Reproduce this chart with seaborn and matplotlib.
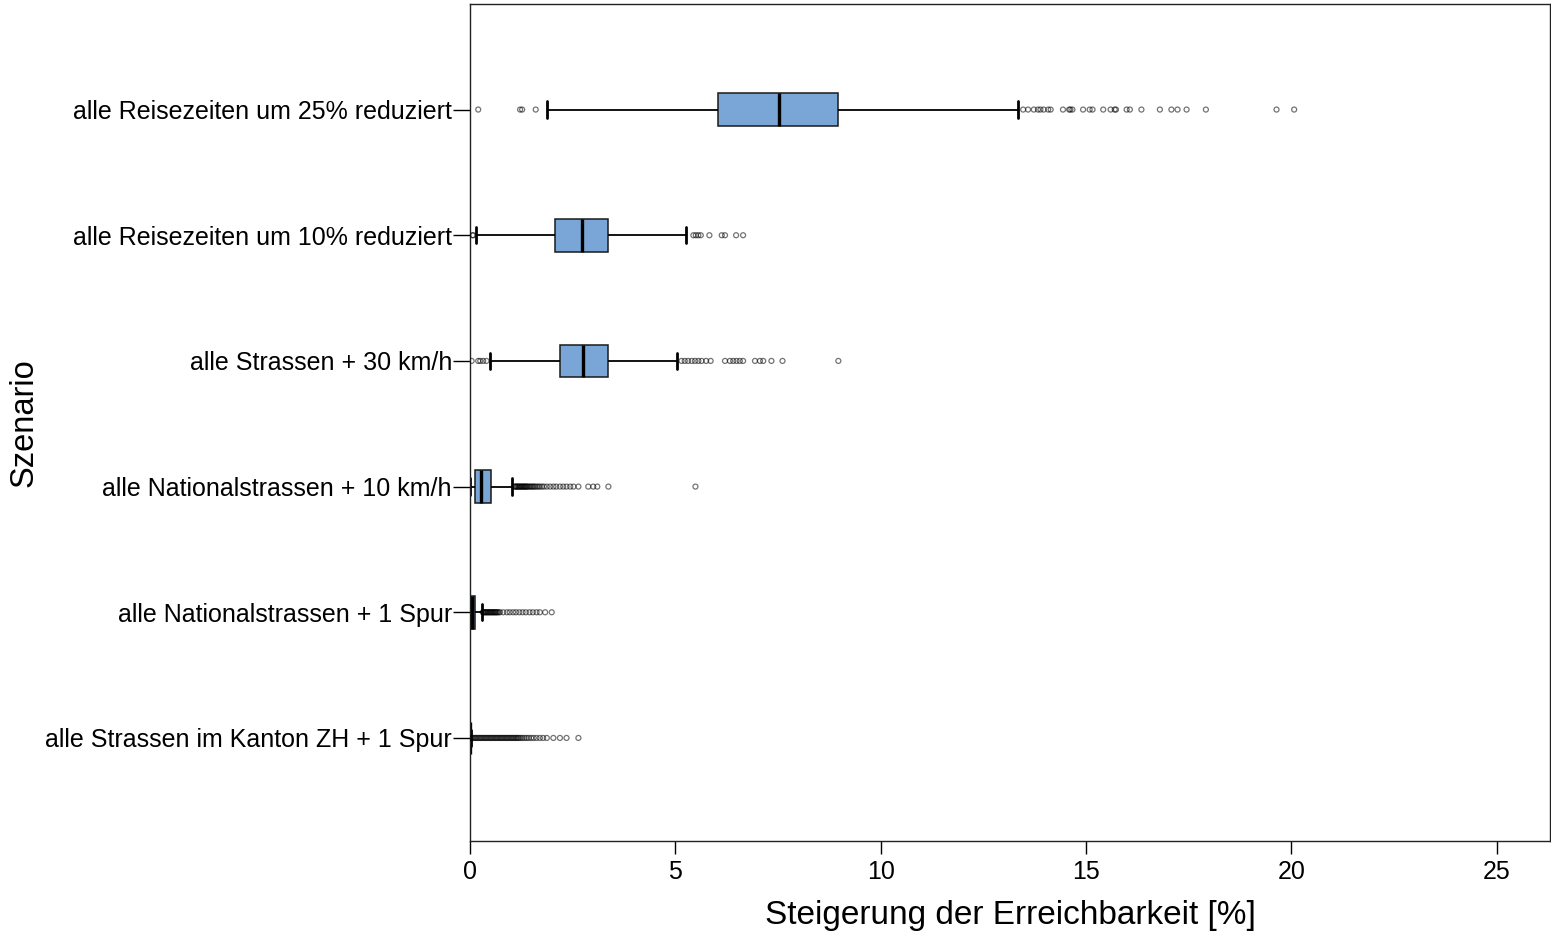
import numpy as np
import pandas as pd
import matplotlib
matplotlib.use("Agg")
import matplotlib.pyplot as plt
import seaborn as sns

# ---- data ----
scenarios = [
    "alle Reisezeiten um 25% reduziert",
    "alle Reisezeiten um 10% reduziert",
    "alle Strassen + 30 km/h",
    "alle Nationalstrassen + 10 km/h",
    "alle Nationalstrassen + 1 Spur",
    "alle Strassen im Kanton ZH + 1 Spur",
]
whisker_low = [1.87, 0.14, 0.49, 0.00, 0.00, 0.00]
q1 = [6.04, 2.07, 2.19, 0.12, 0.00, 0.00]
median = [7.52, 2.73, 2.76, 0.28, 0.05, 0.00]
q3 = [8.97, 3.37, 3.35, 0.50, 0.12, 0.01]
whisker_high = [13.35, 5.27, 5.05, 1.03, 0.29, 0.02]

outliers_25 = [0.20, 1.22, 1.27, 1.60,
               13.47, 13.59, 13.73, 13.83, 13.89, 13.97, 14.08, 14.14, 14.44,
               14.59, 14.62, 14.67, 14.93, 15.09, 15.16, 15.42, 15.60, 15.70,
               15.73, 15.99, 16.07, 16.35, 16.80, 17.08, 17.23, 17.45, 17.92,
               19.64, 20.07]
outliers_10 = [0.06, 0.08,
               5.44, 5.50, 5.56, 5.62, 5.83, 6.13, 6.21, 6.48, 6.65]
outliers_30kmh = [0.04, 0.20, 0.25, 0.32, 0.40,
                  5.15, 5.23, 5.31, 5.40, 5.48, 5.56, 5.64, 5.75, 5.86, 6.21,
                  6.33, 6.41, 6.49, 6.57, 6.65, 6.94, 7.06, 7.14, 7.34, 7.61,
                  8.97]
outliers_ns10 = [1.08, 1.10, 1.12, 1.14, 1.16, 1.18, 1.20, 1.22, 1.24, 1.26,
                 1.28, 1.30, 1.32, 1.34, 1.36, 1.38, 1.40, 1.43, 1.46, 1.49,
                 1.52, 1.55, 1.58, 1.62, 1.66, 1.70, 1.75, 1.80, 1.87, 1.95,
                 2.03, 2.10, 2.19, 2.27, 2.35, 2.44, 2.52, 2.64, 2.88, 3.00,
                 3.10, 3.37, 5.49]
outliers_ns1 = [0.31, 0.33, 0.35, 0.37, 0.39, 0.41, 0.43, 0.45, 0.47, 0.49,
                0.51, 0.53, 0.55, 0.57, 0.59, 0.61, 0.63, 0.65, 0.67, 0.70,
                0.73, 0.81, 0.90, 0.97, 1.05, 1.12, 1.20, 1.28, 1.36, 1.45,
                1.53, 1.62, 1.70, 1.83, 1.99]
outliers_zh = [0.03, 0.06, 0.09, 0.12, 0.15, 0.18, 0.21, 0.24, 0.27, 0.30,
               0.33, 0.36, 0.39, 0.42, 0.45, 0.48, 0.51, 0.54, 0.57, 0.60,
               0.63, 0.66, 0.69, 0.72, 0.75, 0.78, 0.81, 0.84, 0.87, 0.90,
               0.93, 0.96, 0.99, 1.02, 1.05, 1.08, 1.11, 1.14, 1.17, 1.20,
               1.24, 1.28, 1.33, 1.38, 1.43, 1.49, 1.55, 1.62, 1.70, 1.78,
               1.87, 2.03, 2.19, 2.35, 2.64]
outliers = [outliers_25, outliers_10, outliers_30kmh, outliers_ns10,
            outliers_ns1, outliers_zh]

x_ticks = [0, 5, 10, 15, 20, 25]
x_label = "Steigerung der Erreichbarkeit [%]"
y_label = "Szenario"

# ---- tables for seaborn ----
box_rows = []
for i, s in enumerate(scenarios):
    for v in (whisker_low[i], q1[i], median[i], q3[i], whisker_high[i]):
        box_rows.append({"scenario": s, "value": v})
box_df = pd.DataFrame(box_rows)
out_df = pd.DataFrame([{"scenario": s, "value": v}
                       for s, vals in zip(scenarios, outliers) for v in vals])

sns.set_theme(style="white")
plt.rcParams["font.family"] = ["Liberation Sans", "DejaVu Sans"]

fig = plt.figure(figsize=(15.51, 9.32), dpi=100)
ax = fig.add_axes([470 / 1551, 1 - 841 / 932, 1080 / 1551, 837 / 932])

sns.boxplot(data=box_df, x="value", y="scenario", order=scenarios,
            orient="h", whis=(0, 100), width=0.26, color="#79A6D6",
            saturation=1, linecolor="#1a1a1a", linewidth=1.1,
            showfliers=False,
            medianprops=dict(color="black", linewidth=2.4),
            whiskerprops=dict(color="black", linewidth=1.3),
            capprops=dict(color="black", linewidth=2.0),
            ax=ax)
sns.stripplot(data=out_df, x="value", y="scenario", order=scenarios,
              orient="h", jitter=False, color="black", size=3.6,
              linewidth=0.9, ax=ax, zorder=4)
for coll in ax.collections:
    coll.set_facecolor("none")
    coll.set_edgecolor((0, 0, 0, 0.55))

ax.set_xlim(0, 26.3)
ax.set_ylim(5.82, -0.84)
ax.set_xticks(x_ticks)
ax.set_xticklabels([str(t) for t in x_ticks])
ax.set_xlabel(x_label, fontsize=24, color="black", labelpad=11)
ax.set_ylabel(y_label, fontsize=23.5, color="black", labelpad=4)
ax.tick_params(axis="x", which="both", bottom=True, length=9, width=1,
               color="black", labelsize=18, labelcolor="black", pad=5)
ax.tick_params(axis="y", which="both", left=True, length=12, width=1,
               color="black", labelsize=18, labelcolor="black", pad=1)
for sp in ax.spines.values():
    sp.set_visible(True)
    sp.set_color("#222222")
    sp.set_linewidth(1.0)

fig.savefig("out.png", dpi=100, facecolor="white")
